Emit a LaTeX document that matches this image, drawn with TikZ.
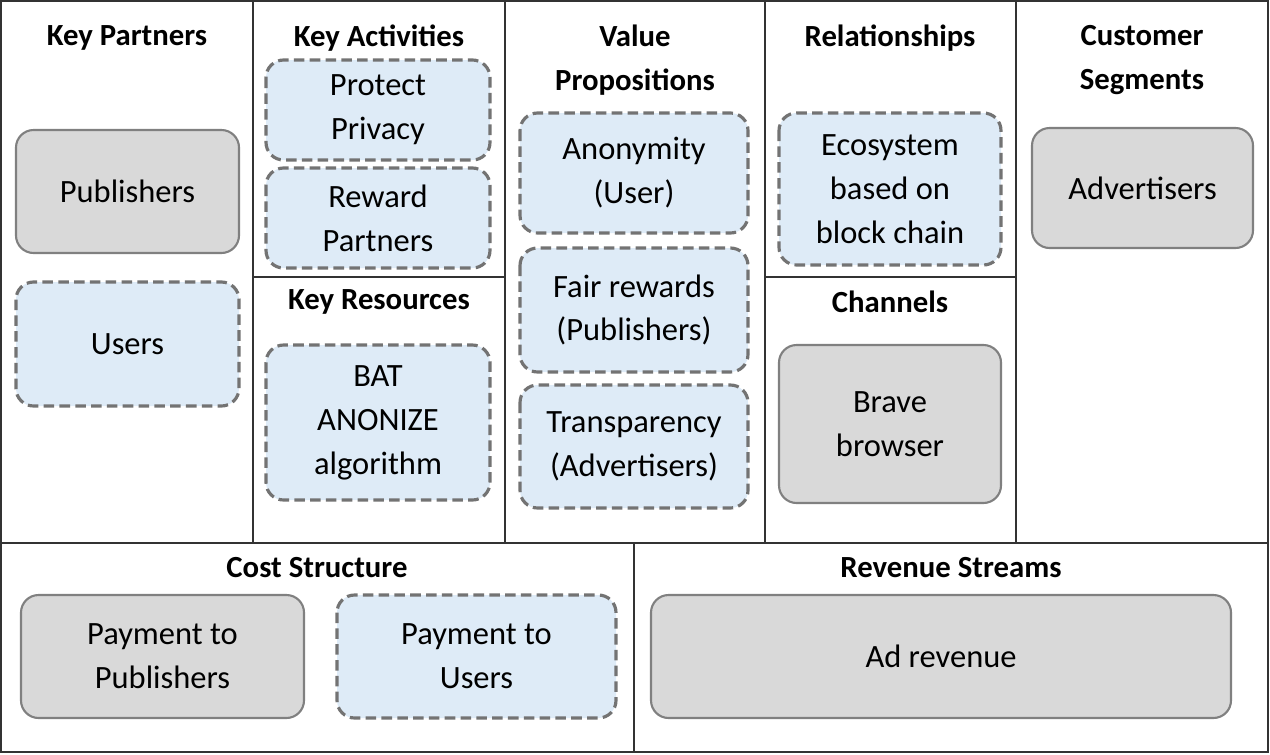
\documentclass[tikz,border=0pt]{standalone}
\usepackage{fontspec}
\setmainfont{Carlito}
\begin{document}
\begin{tikzpicture}[x=0.02cm,y=-0.02cm,
  grid/.style={draw=black!80,line width=0.8pt},
  ttl/.style={font=\fontsize{17.5}{25}\selectfont\bfseries,align=center},
  gbox/.style={draw=black!50,fill=black!15,line width=1.2pt,rounded corners=10pt},
  bbox/.style={draw=black!55,fill={rgb,255:red,222;green,235;blue,247},line width=1.8pt,dash pattern=on 6pt off 3pt,rounded corners=10pt},
  txt/.style={font=\fontsize{18.5}{25}\selectfont,align=center}]
\useasboundingbox (0,0) rectangle (1270,754);
\draw[grid] (1,1) rectangle (1268,752);
\draw[grid] (253,1)--(253,543) (505,1)--(505,543) (765,1)--(765,543) (1016,1)--(1016,543);
\draw[grid] (1,543)--(1268,543) (634,543)--(634,752);
\draw[grid] (253,277)--(505,277) (765,277)--(1016,277);
\node[ttl] (t1) at (127,38) {Key Partners};
\node[ttl] (t2) at (379,38) {Key Activities};
\node[ttl] (t3) at (635,60) {Value\\Propositions};
\node[ttl] (t4) at (890,38) {Relationships};
\node[ttl] (t5) at (1142,60) {Customer\\Segments};
\node[ttl] (t6) at (379,302) {Key Resources};
\node[ttl] (t7) at (890,302) {Channels};
\node[ttl] (t8) at (317,568) {Cost Structure};
\node[ttl] (t9) at (951,568) {Revenue Streams};
\newcommand\bx[6]{\draw[#1] (#2,#3) rectangle (#4,#5); \node[txt] at ({(#2+#4)/2},{(#3+#5)/2}) {#6};}
\bx{gbox}{16}{130}{239}{253}{Publishers}
\bx{bbox}{16}{282}{239}{406}{Users}
\bx{bbox}{266}{60}{490}{160}{Protect\\Privacy}
\bx{bbox}{266}{168}{490}{268}{Reward\\Partners}
\bx{bbox}{266}{345}{490}{500}{BAT\\ANONIZE\\algorithm}
\bx{bbox}{520}{113}{748}{233}{Anonymity\\(User)}
\bx{bbox}{520}{248}{748}{372}{Fair rewards\\(Publishers)}
\bx{bbox}{520}{385}{748}{508}{Transparency\\(Advertisers)}
\bx{bbox}{779}{113}{1001}{265}{Ecosystem\\based on\\block chain}
\bx{gbox}{779}{345}{1001}{503}{Brave\\browser}
\bx{gbox}{1032}{128}{1253}{248}{Advertisers}
\bx{gbox}{21}{595}{304}{718}{Payment to\\Publishers}
\bx{bbox}{337}{595}{616}{718}{Payment to\\Users}
\bx{gbox}{651}{595}{1231}{718}{Ad revenue}
\end{tikzpicture}
\end{document}
